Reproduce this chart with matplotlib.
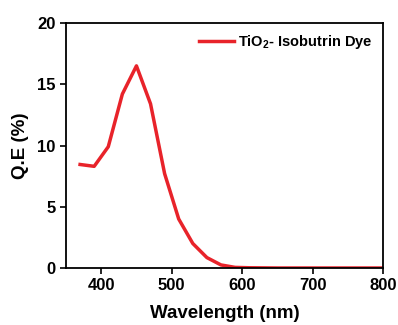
import matplotlib.pyplot as plt

plt.rcParams['font.family'] = ['Liberation Sans', 'DejaVu Sans']
plt.rcParams['font.weight'] = 'bold'
plt.rcParams['mathtext.fontset'] = 'custom'
plt.rcParams['mathtext.rm'] = 'Liberation Sans:bold'

# wavelength (nm) and quantum efficiency (%)
wavelength = [370, 390, 410, 430, 450, 470, 490, 510, 530, 550, 570, 590,
              610, 630, 650, 670, 690, 710, 730, 750, 770, 790, 800]
qe = [8.45, 8.3, 9.9, 14.2, 16.5, 13.4, 7.7, 4.0, 2.0, 0.85, 0.25, 0.05,
      0.02, 0.01, 0.0, 0.0, 0.0, 0.0, 0.0, 0.0, 0.0, 0.0, 0.0]

fig = plt.figure(figsize=(3.98, 3.25), dpi=100)
ax = fig.add_axes([66 / 398, 57 / 325, 317 / 398, 245 / 325])

ax.plot(wavelength, qe, color='#e8232a', lw=2.5, label=r'TiO$_2$- Isobutrin Dye')

ax.set_xlim(350, 800)
ax.set_ylim(0, 20)
ax.set_xticks([400, 500, 600, 700, 800])
ax.set_yticks([0, 5, 10, 15, 20])
ax.tick_params(direction='out', length=4, width=1.2, labelsize=12,
               top=False, right=False)
for s in ax.spines.values():
    s.set_linewidth(1.3)

ax.set_xlabel('Wavelength (nm)', fontsize=13.5, fontweight='bold', labelpad=8)
ax.set_ylabel('Q.E (%)', fontsize=13.5, fontweight='bold', labelpad=6)

ax.legend(loc='upper right', frameon=False, fontsize=10.5, handlelength=2.4,
          handletextpad=0.3, borderaxespad=0.3)

fig.savefig('out.png', dpi=100)
